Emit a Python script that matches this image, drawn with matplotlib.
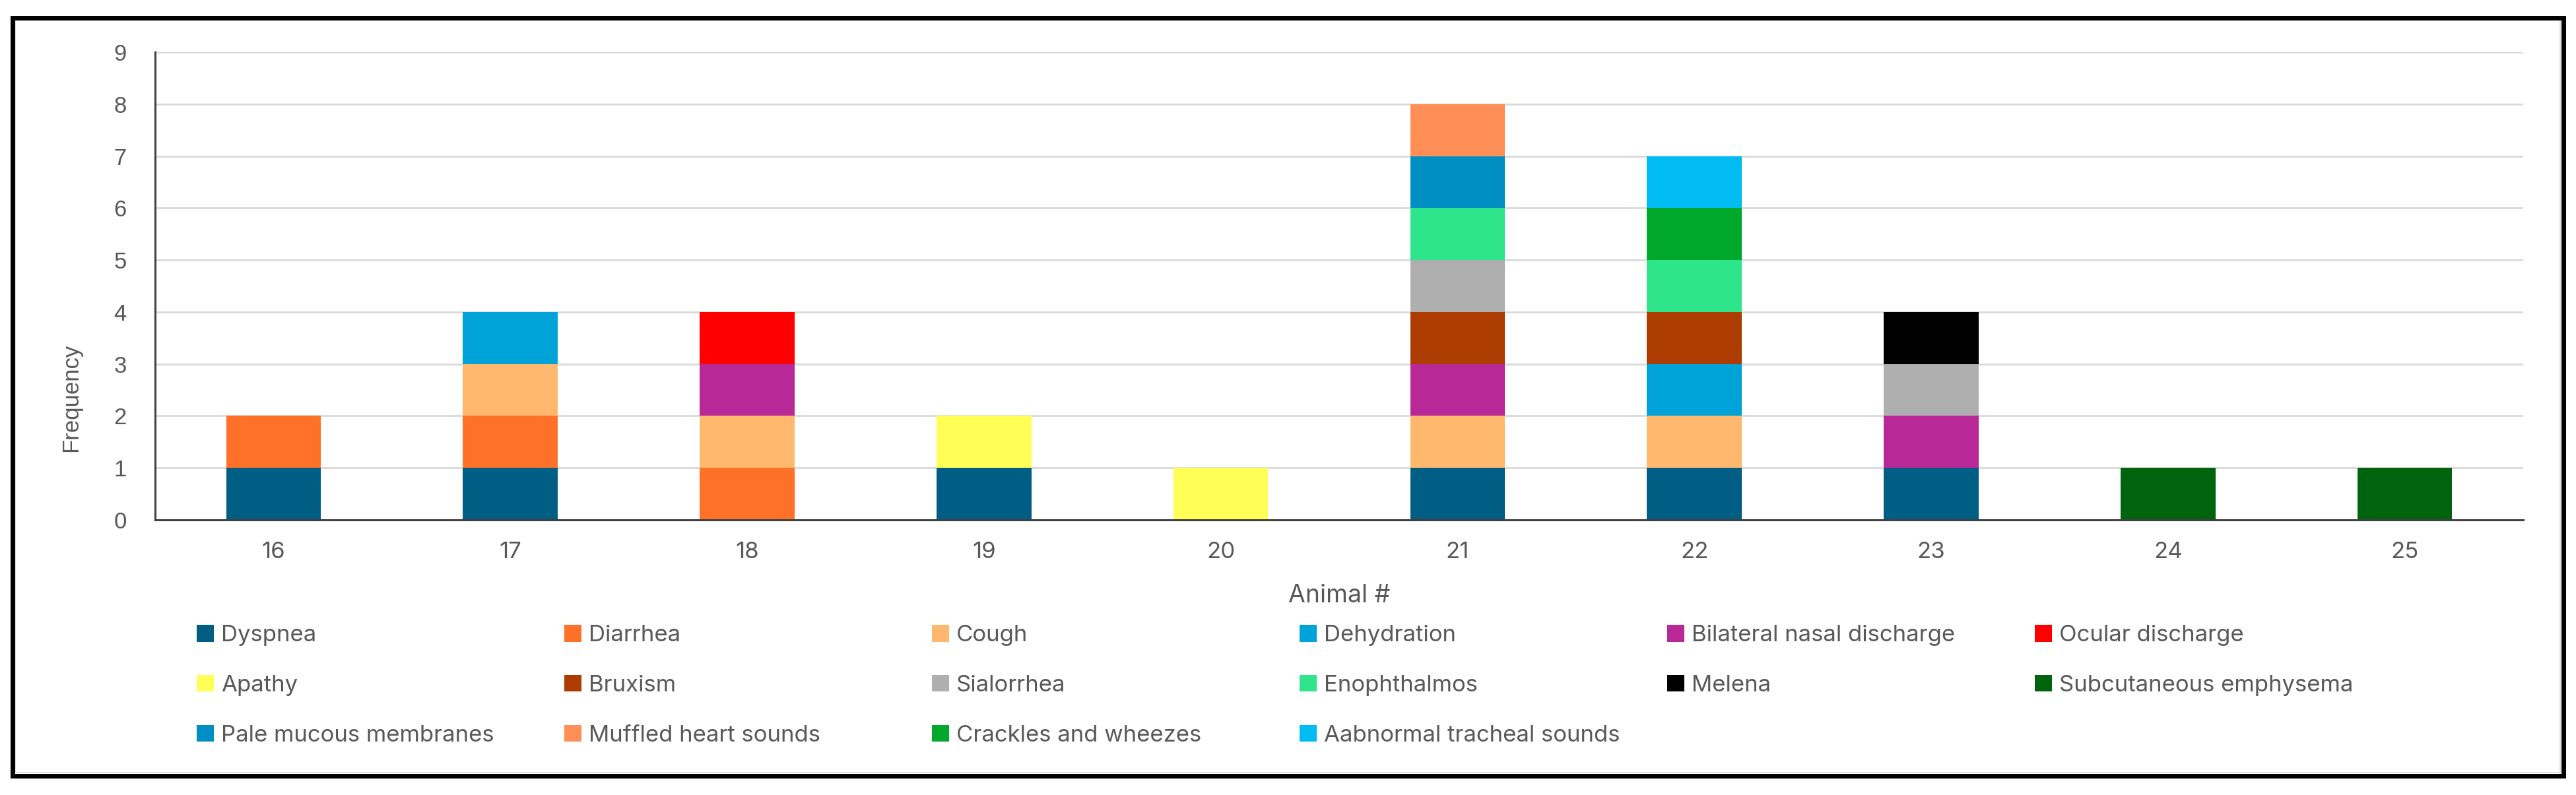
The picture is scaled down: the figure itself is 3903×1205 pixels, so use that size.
import matplotlib.pyplot as plt
from matplotlib.patches import Rectangle

# Data
animals = ['16', '17', '18', '19', '20', '21', '22', '23', '24', '25']
symptoms = ['Dyspnea', 'Diarrhea', 'Cough', 'Dehydration',
            'Bilateral nasal discharge', 'Ocular discharge',
            'Apathy', 'Bruxism', 'Sialorrhea', 'Enophthalmos', 'Melena',
            'Subcutaneous emphysema', 'Pale mucous membranes',
            'Muffled heart sounds', 'Crackles and wheezes',
            'Aabnormal tracheal sounds']
colors = ['#005E85', '#FF7128', '#FFB86E', '#00A3D7', '#B82896', '#FF0000',
          '#FFFF55', '#AD3C00', '#AFAFAF', '#2FE58B', '#000000', '#00640E',
          '#008FC3', '#FF8F57', '#00A82B', '#00BCF2']

# counts per animal (16..25) for each symptom
dyspnea      = [1, 1, 0, 1, 0, 1, 1, 1, 0, 0]
diarrhea     = [1, 1, 1, 0, 0, 0, 0, 0, 0, 0]
cough        = [0, 1, 1, 0, 0, 1, 1, 0, 0, 0]
dehydration  = [0, 1, 0, 0, 0, 0, 1, 0, 0, 0]
bilateral    = [0, 0, 1, 0, 0, 1, 0, 1, 0, 0]
ocular       = [0, 0, 1, 0, 0, 0, 0, 0, 0, 0]
apathy       = [0, 0, 0, 1, 1, 0, 0, 0, 0, 0]
bruxism      = [0, 0, 0, 0, 0, 1, 1, 0, 0, 0]
sialorrhea   = [0, 0, 0, 0, 0, 1, 0, 1, 0, 0]
enophthalmos = [0, 0, 0, 0, 0, 1, 1, 0, 0, 0]
melena       = [0, 0, 0, 0, 0, 0, 0, 1, 0, 0]
subcutaneous = [0, 0, 0, 0, 0, 0, 0, 0, 1, 1]
pale         = [0, 0, 0, 0, 0, 1, 0, 0, 0, 0]
muffled      = [0, 0, 0, 0, 0, 1, 0, 0, 0, 0]
crackles     = [0, 0, 0, 0, 0, 0, 1, 0, 0, 0]
tracheal     = [0, 0, 0, 0, 0, 0, 1, 0, 0, 0]

series = [dyspnea, diarrhea, cough, dehydration, bilateral, ocular, apathy,
          bruxism, sialorrhea, enophthalmos, melena, subcutaneous, pale,
          muffled, crackles, tracheal]

W, H = 3903, 1205
fig = plt.figure(figsize=(W / 100, H / 100), dpi=100)
ax = fig.add_axes([235 / W, 1 - 788 / H, (3823 - 235) / W, (788 - 79) / H])

x = list(range(len(animals)))
bottom = [0] * len(animals)
handles = []
for name, vals, c in zip(symptoms, series, colors):
    b = ax.bar(x, vals, bottom=bottom, width=0.4, color=c, label=name, zorder=3)
    handles.append(b)
    bottom = [bt + v for bt, v in zip(bottom, vals)]

ax.set_xlim(-0.5, len(animals) - 0.5)
ax.set_ylim(0, 9)
ax.set_yticks(range(10))
ax.set_xticks(x)
ax.set_xticklabels(animals, family='Inter', fontsize=25, color='#595959')
for t in ax.get_yticklabels():
    t.set_family('Liberation Sans')
    t.set_fontsize(25)
    t.set_color('#595959')
ax.tick_params(axis='both', length=0)
ax.tick_params(axis='y', pad=31)
ax.tick_params(axis='x', pad=24)
ax.grid(axis='y', color='#D9D9D9', linewidth=2, zorder=0)

for s in ['top', 'right']:
    ax.spines[s].set_visible(False)
ax.spines['left'].set_color('#404040')
ax.spines['left'].set_linewidth(2.2)
ax.spines['bottom'].set_color('#404040')
ax.spines['bottom'].set_linewidth(2.2)
ax.spines['bottom'].set_zorder(4)

ax.set_ylabel('Frequency', family='Liberation Sans', fontsize=25, color='#595959')
ax.yaxis.set_label_coords(124 / W, 0.5, transform=fig.transFigure)
fig.text(2029 / W, 1 - 903 / H, 'Animal #', family='Inter', fontsize=27,
         color='#595959', ha='center', va='center')

# legend: six equal columns, filled row by row
ncol = 6
for c in range(ncol):
    idx = list(range(c, len(symptoms), ncol))
    fig.legend([handles[i] for i in idx], [symptoms[i] for i in idx],
               loc='upper left', bbox_to_anchor=((298 + 557 * c) / W, 1 - 947 / H),
               frameon=False, borderpad=0, borderaxespad=0,
               prop={'family': 'Inter', 'size': 25},
               labelcolor='#595959', handlelength=0.75, handleheight=0.75,
               handletextpad=0.32, labelspacing=1.26)

# outer frame
fig.patches.append(Rectangle((23 / W, 34 / H), (3879 - 23) / W, (1171 - 31) / H,
                             transform=fig.transFigure, fill=False,
                             edgecolor='#D9D9D9', linewidth=1.2))
fig.patches.append(Rectangle((18.5 / W, 29.5 / H), (3883.5 - 18.5) / W, (1175.5 - 26.5) / H,
                             transform=fig.transFigure, fill=False,
                             edgecolor='black', linewidth=5))

fig.savefig('out.png', dpi=100, facecolor='white')
